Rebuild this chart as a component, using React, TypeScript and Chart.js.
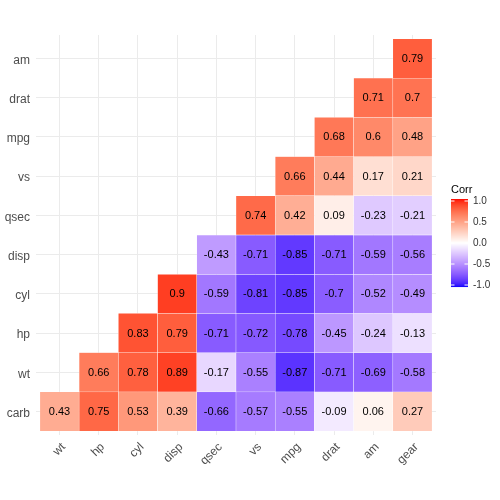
import React, { useEffect, useRef } from "react";
import { Chart, registerables } from "chart.js";

Chart.register(...registerables);

const FONT = "'Liberation Sans', Arial, Helvetica, sans-serif";

// Column (x) categories, left to right
const xLabels = ["wt", "hp", "cyl", "disp", "qsec", "vs", "mpg", "drat", "am", "gear"];
// Row (y) categories, bottom to top
const yLabels = ["carb", "wt", "hp", "cyl", "disp", "qsec", "vs", "mpg", "drat", "am"];

// Correlation values per row (aligned with xLabels; null = empty cell)
const carbRow = [0.43, 0.75, 0.53, 0.39, -0.66, -0.57, -0.55, -0.09, 0.06, 0.27];
const wtRow = [null, 0.66, 0.78, 0.89, -0.17, -0.55, -0.87, -0.71, -0.69, -0.58];
const hpRow = [null, null, 0.83, 0.79, -0.71, -0.72, -0.78, -0.45, -0.24, -0.13];
const cylRow = [null, null, null, 0.9, -0.59, -0.81, -0.85, -0.7, -0.52, -0.49];
const dispRow = [null, null, null, null, -0.43, -0.71, -0.85, -0.71, -0.59, -0.56];
const qsecRow = [null, null, null, null, null, 0.74, 0.42, 0.09, -0.23, -0.21];
const vsRow = [null, null, null, null, null, null, 0.66, 0.44, 0.17, 0.21];
const mpgRow = [null, null, null, null, null, null, null, 0.68, 0.6, 0.48];
const dratRow = [null, null, null, null, null, null, null, null, 0.71, 0.7];
const amRow = [null, null, null, null, null, null, null, null, null, 0.79];

const rows: (number | null)[][] = [carbRow, wtRow, hpRow, cylRow, dispRow, qsecRow, vsRow, mpgRow, dratRow, amRow];

const legendTitle = "Corr";
const legendTicks = [1.0, 0.5, 0.0, -0.5, -1.0];

// ---- Lab colour interpolation (like ggplot2 scale_fill_gradient2) ----
function toLin(c: number) {
  c /= 255;
  return c <= 0.04045 ? c / 12.92 : Math.pow((c + 0.055) / 1.055, 2.4);
}
function fromLin(c: number) {
  const v = c <= 0.0031308 ? 12.92 * c : 1.055 * Math.pow(c, 1 / 2.4) - 0.055;
  return Math.round(Math.max(0, Math.min(1, v)) * 255);
}
const Xn = 0.95047, Yn = 1.0, Zn = 1.08883;
function rgbToLab(rgb: number[]) {
  const R = toLin(rgb[0]), G = toLin(rgb[1]), B = toLin(rgb[2]);
  const X = (0.4124564 * R + 0.3575761 * G + 0.1804375 * B) / Xn;
  const Y = (0.2126729 * R + 0.7151522 * G + 0.072175 * B) / Yn;
  const Z = (0.0193339 * R + 0.119192 * G + 0.9503041 * B) / Zn;
  const f = (t: number) => (t > 0.008856 ? Math.cbrt(t) : 7.787 * t + 16 / 116);
  const fx = f(X), fy = f(Y), fz = f(Z);
  return [116 * fy - 16, 500 * (fx - fy), 200 * (fy - fz)];
}
function labToRgb(lab: number[]) {
  const fy = (lab[0] + 16) / 116;
  const fx = fy + lab[1] / 500;
  const fz = fy - lab[2] / 200;
  const inv = (t: number) => (t * t * t > 0.008856 ? t * t * t : (t - 16 / 116) / 7.787);
  const X = Xn * inv(fx), Y = Yn * inv(fy), Z = Zn * inv(fz);
  const R = 3.2404542 * X - 1.5371385 * Y - 0.4985314 * Z;
  const G = -0.969266 * X + 1.8760108 * Y + 0.041556 * Z;
  const B = 0.0556434 * X - 0.2040259 * Y + 1.0572252 * Z;
  return [fromLin(R), fromLin(G), fromLin(B)];
}
const LAB_LOW = rgbToLab([0, 0, 255]);
const LAB_MID = rgbToLab([255, 255, 255]);
const LAB_HIGH = rgbToLab([255, 0, 0]);
function colorFor(v: number) {
  const t = Math.min(1, Math.abs(v));
  const end = v >= 0 ? LAB_HIGH : LAB_LOW;
  const lab = [0, 1, 2].map((k) => LAB_MID[k] + (end[k] - LAB_MID[k]) * t);
  const rgb = labToRgb(lab);
  return `rgb(${rgb[0]},${rgb[1]},${rgb[2]})`;
}

type Cell = { x: number; y: [number, number]; v: number };

function buildCells(): Cell[] {
  const cells: Cell[] = [];
  rows.forEach((row, j) => {
    row.forEach((v, i) => {
      if (v !== null && v !== undefined) cells.push({ x: i, y: [j - 0.5, j + 0.5], v });
    });
  });
  return cells;
}

const valueLabelPlugin = {
  id: "valueLabels",
  afterDatasetsDraw(chart: any) {
    const ctx = chart.ctx;
    const meta = chart.getDatasetMeta(0);
    const data = chart.data.datasets[0].data as Cell[];
    ctx.save();
    ctx.font = `11px ${FONT}`;
    ctx.fillStyle = "#000000";
    ctx.textAlign = "center";
    ctx.textBaseline = "middle";
    meta.data.forEach((el: any, i: number) => {
      const c = el.getCenterPoint();
      ctx.fillText(String(data[i].v), c.x, c.y + 0.5);
    });
    ctx.restore();
  },
};

const colorbarPlugin = {
  id: "colorbar",
  afterDraw(chart: any) {
    const ctx = chart.ctx;
    const left = 451, width = 17, top = 199, height = 88, inset = 2;
    ctx.save();
    ctx.font = `11px ${FONT}`;
    ctx.fillStyle = "#000000";
    ctx.textAlign = "left";
    ctx.textBaseline = "middle";
    ctx.fillText(legendTitle, left, 190);
    for (let k = 0; k < height; k++) {
      const v = 1 - (2 * (k + 0.5)) / height;
      ctx.fillStyle = colorFor(v);
      ctx.fillRect(left, top + k, width, 1.05);
    }
    ctx.font = `10px ${FONT}`;
    legendTicks.forEach((v) => {
      const y = top + inset + ((1 - v) / 2) * (height - 2 * inset);
      ctx.strokeStyle = "#ffffff";
      ctx.lineWidth = 1;
      ctx.beginPath();
      ctx.moveTo(left, y);
      ctx.lineTo(left + 3.5, y);
      ctx.moveTo(left + width - 3.5, y);
      ctx.lineTo(left + width, y);
      ctx.stroke();
      ctx.fillStyle = "#333333";
      ctx.fillText(v.toFixed(1), left + width + 5, y);
    });
    ctx.restore();
  },
};

export default function App() {
  const canvasRef = useRef<HTMLCanvasElement | null>(null);

  useEffect(() => {
    if (!canvasRef.current) return;
    const cells = buildCells();
    const chart = new Chart(canvasRef.current, {
      type: "bar",
      data: {
        datasets: [
          {
            data: cells as any,
            backgroundColor: cells.map((c) => colorFor(c.v)),
            borderColor: "rgba(255,255,255,0.6)",
            borderWidth: 0.5,
            borderSkipped: false,
            barPercentage: 1,
            categoryPercentage: 1,
            grouped: false,
          } as any,
        ],
      },
      options: {
        animation: false,
        responsive: false,
        devicePixelRatio: 1,
        layout: { padding: { top: 35, right: 64, left: 0, bottom: 0 } },
        plugins: {
          legend: { display: false },
          tooltip: { enabled: false },
        },
        scales: {
          x: {
            type: "linear",
            min: -0.6,
            max: 9.6,
            offset: false,
            afterBuildTicks: (a: any) => {
              a.ticks = xLabels.map((_, i) => ({ value: i }));
            },
            afterFit: (a: any) => {
              a.height = 65;
            },
            ticks: {
              callback: (_v: any, i: number) => xLabels[i],
              minRotation: 45,
              maxRotation: 45,
              autoSkip: false,
              color: "#4d4d4d",
              font: { family: FONT, size: 12 },
              padding: 5,
              labelOffset: 4,
            },
            grid: { color: "#ebebeb", lineWidth: 1, drawTicks: false, offset: false },
            border: { display: false },
          },
          y: {
            type: "linear",
            min: -0.6,
            max: 9.6,
            afterBuildTicks: (a: any) => {
              a.ticks = yLabels.map((_, i) => ({ value: i }));
            },
            afterFit: (a: any) => {
              a.width = 36;
            },
            ticks: {
              callback: (_v: any, i: number) => yLabels[i],
              autoSkip: false,
              color: "#4d4d4d",
              font: { family: FONT, size: 12 },
              padding: 6,
              labelOffset: 2,
            },
            grid: { color: "#ebebeb", lineWidth: 1, drawTicks: false },
            border: { display: false },
          },
        },
      } as any,
      plugins: [valueLabelPlugin, colorbarPlugin],
    });
    return () => chart.destroy();
  }, []);

  return (
    <div style={{ position: "absolute", left: 0, top: 0, width: 500, height: 500, background: "#ffffff" }}>
      <canvas ref={canvasRef} width={500} height={500} />
    </div>
  );
}
